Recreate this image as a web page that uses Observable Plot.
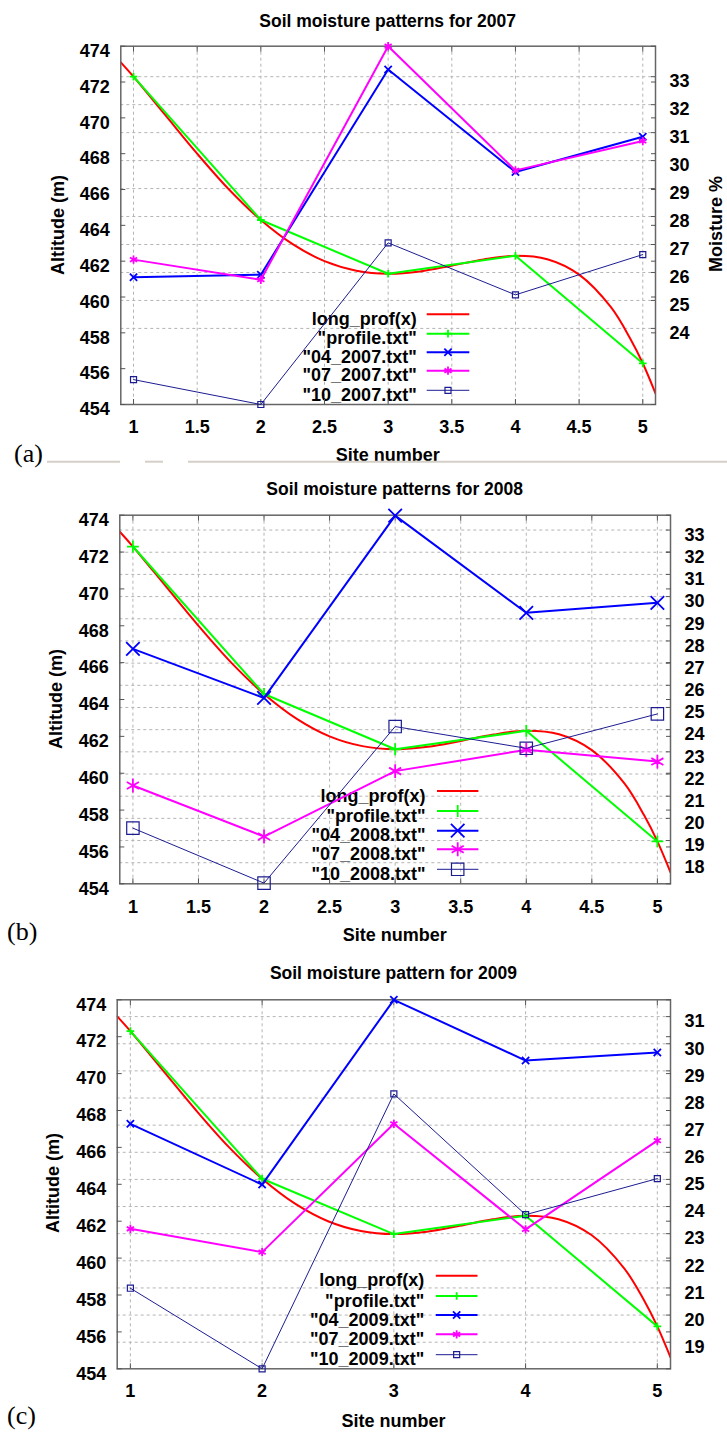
<!DOCTYPE html>
<html><head><meta charset="utf-8">
<script src="https://cdn.jsdelivr.net/npm/d3@7"></script>
<script src="https://cdn.jsdelivr.net/npm/@observablehq/plot@0.6"></script>
<style>
body{margin:0;background:#fff;}
#page{position:relative;width:727px;height:1432px;overflow:hidden;background:#fff;}
#page svg{position:absolute;left:0;}
</style></head><body><div id="page"></div>
<script>
// ---------- data ----------
const sites = [1, 2, 3, 4, 5];
const profile = [472.3, 464.3, 461.3, 462.3, 456.3];            // "profile.txt" (m)
const longProfX = [0.9, 1.0, 1.25, 1.5, 1.75, 2.0, 2.25, 2.5, 2.75, 3.0, 3.25, 3.5, 3.75, 4.0, 4.25, 4.5, 4.75, 4.9, 5.0, 5.1];
const longProfY = [473.1, 472.3, 470.15, 468.0, 466.0, 464.3, 462.95, 462.0, 461.47, 461.3, 461.43, 461.75, 462.1, 462.3, 462.11, 461.25, 459.43, 457.7, 456.3, 454.62];

const m04_2007 = [25.83, 25.92, 33.26, 29.59, 30.85];
const m07_2007 = [26.46, 25.74, 34.09, 29.65, 30.70];
const m10_2007 = [22.17, 21.28, 27.06, 25.20, 26.64];
const m04_2008 = [27.64, 25.43, 33.65, 29.27, 29.72];
const m07_2008 = [21.48, 19.18, 22.13, 23.09, 22.56];
const m10_2008 = [19.56, 17.08, 24.14, 23.16, 24.71];
const m04_2009 = [27.05, 24.81, 31.62, 29.38, 29.68];
const m07_2009 = [23.18, 22.32, 27.05, 23.16, 26.43];
const m10_2009 = [20.99, 18.02, 28.15, 23.70, 25.03];

const titles = ["Soil moisture patterns for 2007", "Soil moisture patterns for 2008", "Soil moisture pattern for 2009"];
const years = ["2007", "2008", "2009"];
const panelLetters = ["(a)", "(b)", "(c)"];
const altTicks = [454, 456, 458, 460, 462, 464, 466, 468, 470, 472, 474];
const xTicksHalf = [1, 1.5, 2, 2.5, 3, 3.5, 4, 4.5, 5];
const xTicksInt = [1, 2, 3, 4, 5];
const y2Ticks2007 = [24, 25, 26, 27, 28, 29, 30, 31, 32, 33];
const y2Ticks2008 = [18, 19, 20, 21, 22, 23, 24, 25, 26, 27, 28, 29, 30, 31, 32, 33];
const y2Ticks2009 = [19, 20, 21, 22, 23, 24, 25, 26, 27, 28, 29, 30, 31];
const y2Range2007 = [21.28, 34.09];
const y2Range2008 = [17.05, 33.67];
const y2Range2009 = [18.02, 31.62];
const altRange = [454, 474];
const xRange = [0.9, 5.1];

// ---------- layout ----------
const FONT = "'Liberation Sans', Arial, Helvetica, sans-serif";
const TICK_FS = 18, LEG_FS = 18, LAB_FS = 18, TITLE_FS = 17.5;
const COLORS = {red: "#ff0000", green: "#00ff00", blue: "#0000ff", magenta: "#ff00ff", navy: "#1c1c92"};
const fmt = d3.format("~g");
const panels = [
  {T: 0, H: 470, ml: 120.3, mr: 72, mt: 45.7, mb: 66, xTicks: xTicksHalf, y2Ticks: y2Ticks2007, y2: y2Range2007,
   m: [m04_2007, m07_2007, m10_2007], big: false,
   title: {x: 387.7, y: 27}, site: {y: 461}, alt: {x: 64, y: 225}, moist: {x: 722, y: 224},
   letter: {x: 14, y: 462}, legend: {tx: 416.7, x1: 426.7, x2: 469.3, rows: [314.3, 333.7, 352.3, 370.7, 390.3]}},
  {T: 470, H: 480, ml: 119.3, mr: 57, mt: 44.7, mb: 66.7, xTicks: xTicksHalf, y2Ticks: y2Ticks2008, y2: y2Range2008,
   m: [m04_2008, m07_2008, m10_2008], big: true,
   title: {x: 394.7, y: 495}, site: {y: 941}, alt: {x: 62, y: 699}, moist: null,
   letter: {x: 7, y: 940}, legend: {tx: 425.6, x1: 437, x2: 478.4, rows: [791, 811, 830.7, 849.3, 869.3]}},
  {T: 950, H: 482, ml: 116.7, mr: 57, mt: 49.3, mb: 63.7, xTicks: xTicksInt, y2Ticks: y2Ticks2009, y2: y2Range2009,
   m: [m04_2009, m07_2009, m10_2009], big: false,
   title: {x: 393.4, y: 979.3}, site: {y: 1426.7}, alt: {x: 58.5, y: 1183}, moist: null,
   letter: {x: 7, y: 1424}, legend: {tx: 424.2, x1: 435.8, x2: 477.5, rows: [1275.7, 1296, 1315, 1334.3, 1354.7]}}
];

const page = document.getElementById("page");
const base = (p, y) => ({
  width: 727, height: p.H, marginLeft: p.ml, marginRight: p.mr, marginTop: p.mt, marginBottom: p.mb,
  style: {background: "transparent", fontFamily: FONT, fontSize: TICK_FS + "px", fontWeight: "bold", color: "#000", overflow: "visible"},
  x: {domain: xRange, axis: null},
  y: {domain: y, axis: null}
});
function place(svg, top) { svg.style.top = top + "px"; page.appendChild(svg); }

const markerR = (big) => big ? {plus: 3.9, times: 6.2, asterisk: 6.6, square: 7} : {plus: 2.6, times: 3.4, asterisk: 3.9, square: 3.4};
const symbolMap = {plus: d3.symbolPlus, times: d3.symbolTimes, asterisk: d3.symbolAsterisk, square: d3.symbolSquare};

// text overlay (below the data lines)
const overlay = d3.create("svg").attr("width", 727).attr("height", 1432)
  .style("position", "absolute").style("top", "0px").style("left", "0px")
  .style("font-family", FONT);

panels.forEach((p, i) => {
  const R = markerR(p.big);
  // layer 1: grid + right axis (moisture scale)
  const grid = Plot.plot({...base(p, p.y2), marks: [
    Plot.gridX(p.xTicks, {stroke: "#b4b4b4", strokeOpacity: 1, strokeDasharray: "3,3"}),
    Plot.gridY(p.y2Ticks, {stroke: "#b4b4b4", strokeOpacity: 1, strokeDasharray: "3,3"}),
    Plot.axisY(p.y2Ticks, {anchor: "right", tickSize: 0, tickPadding: 14, dy: 5, label: null, fontWeight: "bold", fontSize: TICK_FS, tickFormat: fmt}),
    Plot.axisY(p.y2Ticks, {anchor: "right", tickSize: -5, tickPadding: 0, tickFormat: () => "", label: null, stroke: "#555"})
  ]});
  place(grid, p.T);

  const g = overlay.append("g");
  g.append("text").attr("x", p.title.x).attr("y", p.title.y).attr("text-anchor", "middle")
    .attr("font-weight", "bold").attr("font-size", TITLE_FS).text(titles[i]);
  g.append("text").attr("x", p.title.x).attr("y", p.site.y).attr("text-anchor", "middle")
    .attr("font-weight", "bold").attr("font-size", LAB_FS).text("Site number");
  g.append("text").attr("transform", `translate(${p.alt.x},${p.alt.y}) rotate(-90)`).attr("text-anchor", "middle")
    .attr("font-weight", "bold").attr("font-size", LAB_FS).text("Altitude (m)");
  if (p.moist) g.append("text").attr("transform", `translate(${p.moist.x},${p.moist.y}) rotate(-90)`).attr("text-anchor", "middle")
    .attr("font-weight", "bold").attr("font-size", LAB_FS).text("Moisture %");
  g.append("text").attr("x", p.letter.x).attr("y", p.letter.y).attr("font-family", "'Liberation Serif','Times New Roman',serif")
    .attr("font-size", 26).text(panelLetters[i]);
  const labels = ["long_prof(x)", '"profile.txt"', `"04_${years[i]}.txt"`, `"07_${years[i]}.txt"`, `"10_${years[i]}.txt"`];
  const styles = [
    {c: COLORS.red, w: 2, s: null},
    {c: COLORS.green, w: 2, s: "plus"},
    {c: COLORS.blue, w: 2, s: "times"},
    {c: COLORS.magenta, w: 2, s: "asterisk"},
    {c: COLORS.navy, w: 1, s: "square"}
  ];
  const L = p.legend;
  labels.forEach((lab, k) => {
    const y = L.rows[k];
    g.append("text").attr("x", L.tx).attr("y", y + 10.5).attr("text-anchor", "end")
      .attr("font-weight", "bold").attr("font-size", LEG_FS).text(lab);
    g.append("line").attr("x1", L.x1).attr("x2", L.x2).attr("y1", y).attr("y2", y)
      .attr("stroke", styles[k].c).attr("stroke-width", styles[k].w);
    if (styles[k].s) {
      const r = R[styles[k].s];
      g.append("path").attr("transform", `translate(${(L.x1 + L.x2) / 2},${y})`)
        .attr("d", d3.symbol(symbolMap[styles[k].s], Math.PI * r * r)())
        .attr("fill", "none").attr("stroke", styles[k].c).attr("stroke-width", styles[k].s === "square" ? 1.2 : 1.8);
    }
  });
  if (i === 0) {
    [[47, 120], [145, 163], [188, 727]].forEach(([a, b]) =>
      g.append("line").attr("x1", a).attr("x2", b).attr("y1", 461.7).attr("y2", 461.7).attr("stroke", "#d4d0c8").attr("stroke-width", 2));
  }
});
page.appendChild(overlay.node());

panels.forEach((p, i) => {
  const R = markerR(p.big);
  const prof = sites.map((s, k) => ({x: s, y: profile[k]}));
  const red = longProfX.map((x, k) => ({x, y: longProfY[k]}));
  const ser = p.m.map(arr => sites.map((s, k) => ({x: s, y: arr[k]})));

  // layer 2: altitude scale (long_prof, profile, frame, left/bottom axes)
  const alt = Plot.plot({...base(p, altRange), marks: [
    Plot.line(red, {x: "x", y: "y", stroke: COLORS.red, strokeWidth: 2, curve: "catmull-rom", clip: true}),
    Plot.line(prof, {x: "x", y: "y", stroke: COLORS.green, strokeWidth: 2}),
    Plot.dot(prof, {x: "x", y: "y", symbol: "plus", r: R.plus, stroke: COLORS.green, strokeWidth: 1.8}),
    Plot.frame({stroke: "#666", strokeWidth: 1.5}),
    Plot.axisY(altTicks, {anchor: "left", tickSize: 0, tickPadding: 11, dy: 5, label: null, fontWeight: "bold", fontSize: TICK_FS, tickFormat: fmt}),
    Plot.axisY(altTicks, {anchor: "left", tickSize: -5, tickPadding: 0, tickFormat: () => "", label: null, stroke: "#555"}),
    Plot.axisY(altTicks, {anchor: "right", tickSize: -5, tickPadding: 0, tickFormat: () => "", label: null, stroke: "#555"}),
    Plot.axisX(p.xTicks, {anchor: "bottom", tickSize: 0, tickPadding: p.big ? 16.5 : 15.5, label: null, fontWeight: "bold", fontSize: TICK_FS, tickFormat: fmt}),
    Plot.axisX(p.xTicks, {anchor: "bottom", tickSize: -5, tickPadding: 0, tickFormat: () => "", label: null, stroke: "#555"}),
    Plot.axisX(p.xTicks, {anchor: "top", tickSize: -5, tickPadding: 0, tickFormat: () => "", label: null, stroke: "#555"})
  ]});
  place(alt, p.T);

  // layer 3: moisture series (right axis scale)
  const sym = ["times", "asterisk", "square"];
  const col = [COLORS.blue, COLORS.magenta, COLORS.navy];
  const marks = [];
  ser.forEach((d, k) => {
    marks.push(Plot.line(d, {x: "x", y: "y", stroke: col[k], strokeWidth: k === 2 ? 1 : 2}));
    marks.push(Plot.dot(d, {x: "x", y: "y", symbol: sym[k], r: R[sym[k]], stroke: col[k], fill: "none", strokeWidth: k === 2 ? 1.2 : 1.8}));
  });
  const moist = Plot.plot({...base(p, p.y2), marks});
  place(moist, p.T);
});
</script></body></html>
